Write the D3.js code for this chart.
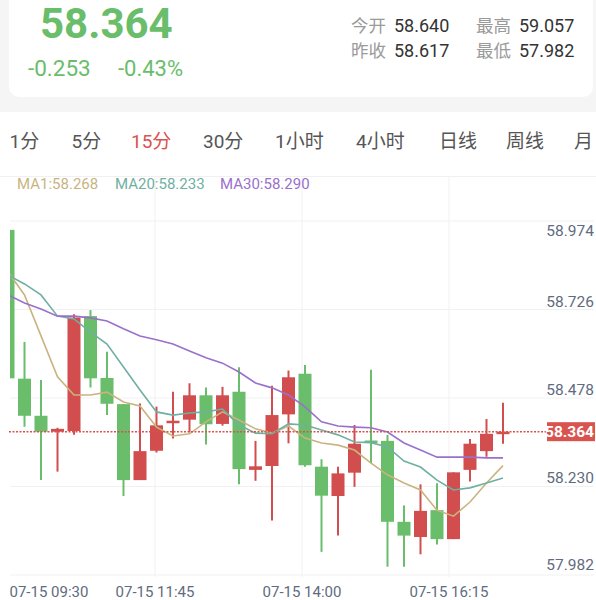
<!DOCTYPE html>
<html><head><meta charset="utf-8">
<script src="https://cdn.jsdelivr.net/npm/d3@7/dist/d3.min.js"></script>
<style>
html,body{margin:0;padding:0;background:#fff;}
svg{display:block;}
</style></head>
<body>
<svg id="c" width="596" height="600"></svg>
<script>
// ---------- data ----------
const lastPrice = "58.364";
const change = "-0.253";
const changePct = "-0.43%";
const statLabels = ["今开", "最高", "昨收", "最低"];
const statValues = ["58.640", "59.057", "58.617", "57.982"];
const tabs = ["1分", "5分", "15分", "30分", "1小时", "4小时", "日线", "周线", "月"];
const activeTab = "15分";
const maNames = ["MA1", "MA20", "MA30"];
const maLast = ["58.268", "58.233", "58.290"];
const timeLabels = ["07-15 09:30", "07-15 11:45", "07-15 14:00", "07-15 16:15"];
const yTickLabels = ["58.974", "58.726", "58.478", "58.230", "57.982"];
const yTickValues = [58.974, 58.726, 58.478, 58.230, 57.982];
const currentPrice = 58.364;

const open  = [58.935,58.514,58.409,58.364,58.366,58.691,58.516,58.442,58.227,58.310,58.389,58.398,58.467,58.386,58.477,58.256,58.267,58.413,58.528,58.265,58.182,58.248,58.339,58.338,58.109,58.066,58.142,58.060,58.256,58.309,58.360];
const high  = [58.974,58.618,58.510,58.375,58.696,58.708,58.590,58.442,58.444,58.435,58.477,58.501,58.489,58.491,58.546,58.338,58.494,58.537,58.553,58.286,58.265,58.383,58.539,58.355,58.155,58.215,58.218,58.249,58.343,58.400,58.446];
const low   = [58.515,58.378,58.227,58.251,58.355,58.489,58.411,58.182,58.227,58.305,58.345,58.362,58.328,58.381,58.215,58.225,58.113,58.331,58.265,58.024,58.070,58.208,58.275,57.982,57.982,58.017,58.045,58.060,58.223,58.293,58.330];
const close = [58.515,58.409,58.364,58.372,58.687,58.515,58.443,58.227,58.309,58.382,58.395,58.467,58.385,58.467,58.258,58.266,58.411,58.518,58.269,58.183,58.246,58.330,58.334,58.109,58.070,58.140,58.060,58.249,58.330,58.358,58.364];

const ma1  = [58.816,58.751,58.635,58.519,58.468,58.468,58.476,58.448,58.437,58.377,58.352,58.358,58.392,58.420,58.397,58.372,58.360,58.380,58.346,58.332,58.326,58.312,58.275,58.242,58.219,58.199,58.142,58.125,58.165,58.219,58.268];
const ma20 = [58.807,58.782,58.751,58.691,58.683,58.646,58.612,58.547,58.482,58.420,58.411,58.417,58.420,58.428,58.383,58.360,58.358,58.386,58.383,58.369,58.355,58.335,58.333,58.321,58.281,58.264,58.227,58.199,58.205,58.219,58.233];
const ma30 = [58.751,58.728,58.711,58.691,58.691,58.686,58.677,58.655,58.635,58.624,58.612,58.592,58.573,58.558,58.533,58.502,58.488,58.468,58.434,58.392,58.380,58.377,58.375,58.363,58.332,58.312,58.292,58.292,58.292,58.290,58.290];

// ---------- style ----------
const GREEN = "#69bd6b", RED = "#d24d4d";
const maColors = ["#c9b47f", "#6fb0a2", "#9a70cc"];
const FONT = "Roboto, 'Noto Sans CJK SC', sans-serif";
const svg = d3.select("#c").style("font-family", FONT);

// header background
svg.append("rect").attr("x",0).attr("y",0).attr("width",596).attr("height",112).attr("fill","#f5f5f5");
svg.append("rect").attr("x",9).attr("y",-20).attr("width",584).attr("height",117).attr("rx",10).attr("fill","#fff");

svg.append("text").attr("x",40).attr("y",38).attr("font-size",42).attr("font-weight","bold")
  .attr("fill",GREEN).text(lastPrice);
svg.append("text").attr("x",28).attr("y",76).attr("font-size",22.5).attr("fill",GREEN).text(change);
svg.append("text").attr("x",118).attr("y",76).attr("font-size",22).attr("fill",GREEN).text(changePct);

const statPos = [[351,32],[476,32],[351,57],[476,57]];
statLabels.forEach((l,i)=>{
  svg.append("text").attr("x",statPos[i][0]).attr("y",statPos[i][1]).attr("font-size",17.5).attr("fill","#9a9a9a").text(l);
  svg.append("text").attr("x",statPos[i][0]+43).attr("y",statPos[i][1]).attr("font-size",18).attr("fill","#333").text(statValues[i]);
});

// tabs
const tabX = [9.5,71.5,131,203,275,356,439,506,574];
tabs.forEach((t,i)=>{
  svg.append("text").attr("x",tabX[i]).attr("y",148).attr("font-size",19)
    .attr("fill", t===activeTab ? "#d9534f" : "#555").text(t);
});

// chart frame
const pLeft = 8, pRight = 596, pTop = 221, pBottom = 575;
svg.append("line").attr("x1",0).attr("x2",596).attr("y1",176.5).attr("y2",176.5).attr("stroke","#f0f0f0");
const gridY = d3.scaleLinear().domain([0,4]).range([pTop,pBottom]);
d3.range(5).forEach(k=>{
  svg.append("line").attr("x1",10).attr("x2",594).attr("y1",gridY(k)).attr("y2",gridY(k))
    .attr("stroke","#f1f1f1").attr("stroke-width",1);
});
const gridX = d3.scaleLinear().domain([0,4]).range([pLeft,pRight]);
[1,2,3].forEach(k=>{
  svg.append("line").attr("x1",gridX(k)).attr("x2",gridX(k)).attr("y1",177).attr("y2",577)
    .attr("stroke","#f1f1f1").attr("stroke-width",1);
});

// legend
const legX = [17,115,220];
maNames.forEach((nm,i)=>{
  svg.append("text").attr("x",legX[i]).attr("y",189).attr("font-size",15).attr("fill",maColors[i])
    .text(nm+":"+maLast[i]);
});

// scales
const n = close.length;
const x = d3.scaleLinear().domain([0, n-1]).range([8, 503]);
const y = d3.scaleLinear().domain([57.982, 58.974]).range([566.7, 216.1]);

svg.append("clipPath").attr("id","plot").append("rect").attr("x",10).attr("y",pTop).attr("width",584).attr("height",pBottom-pTop);
const g = svg.append("g").attr("clip-path","url(#plot)");

const bodyW = 13;
const idx = d3.range(n);
g.selectAll(".wick").data(idx).join("line")
  .attr("x1",i=>x(i)).attr("x2",i=>x(i))
  .attr("y1",i=>y(high[i])).attr("y2",i=>y(low[i]))
  .attr("stroke",i=>close[i]>=open[i]?RED:GREEN).attr("stroke-width",2);
g.selectAll(".body").data(idx).join("rect")
  .attr("x",i=>x(i)-bodyW/2).attr("width",bodyW)
  .attr("y",i=>y(Math.max(open[i],close[i])))
  .attr("height",i=>Math.max(2.5, Math.abs(y(open[i])-y(close[i]))))
  .attr("fill",i=>close[i]>=open[i]?RED:GREEN);

[ma1, ma20, ma30].forEach((arr,k)=>{
  g.append("path").datum(arr)
    .attr("d", d3.line().x((d,i)=>x(i)).y(d=>y(d)))
    .attr("fill","none").attr("stroke",maColors[k]).attr("stroke-width",1.6);
});

svg.append("line").attr("x1",9).attr("x2",547).attr("y1",y(currentPrice)).attr("y2",y(currentPrice))
  .attr("stroke","#d9534f").attr("stroke-width",1.5).attr("stroke-dasharray","2,1.5");

yTickValues.forEach((v,i)=>{
  const yy = Math.max(y(v)-2, 230);
  svg.append("text").attr("x",594).attr("y",yy).attr("dy","0.36em").attr("text-anchor","end")
    .attr("font-size",15.5).attr("fill","#5f6b80").text(yTickLabels[i]);
});
svg.append("rect").attr("x",547).attr("y",y(currentPrice)-9.5).attr("width",48).attr("height",19).attr("fill","#d9534f");
svg.append("text").attr("x",594).attr("y",y(currentPrice)).attr("dy","0.36em").attr("text-anchor","end")
  .attr("font-size",15.5).attr("font-weight","bold").attr("fill","#fff").text(lastPrice);

timeLabels.forEach((t,i)=>{
  svg.append("text").attr("x", i===0 ? 9.5 : gridX(i)).attr("y",597)
    .attr("text-anchor", i===0 ? "start" : "middle")
    .attr("font-size",15).attr("fill","#5f6b80").text(t);
});
</script>
</body></html>
